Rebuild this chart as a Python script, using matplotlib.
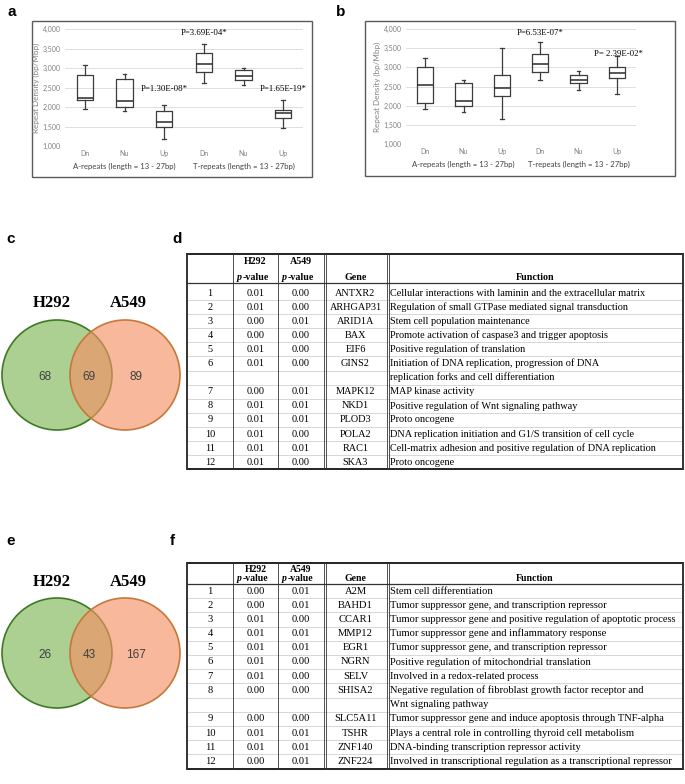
import numpy as np
import matplotlib.pyplot as plt
from matplotlib.patches import Circle, Rectangle

W, H = 685, 784

# ---- data: box plots a / b (repeat density, bp/Mbp) ----
categories = ["Dn", "Nu", "Up", "Dn", "Nu", "Up"]
groups = ["A-repeats (length = 13 - 27bp)", "T-repeats (length = 13 - 27bp)"]
yticks = [1000, 1500, 2000, 2500, 3000, 3500, 4000]

a_whislo = [1950, 1910, 1190, 2610, 2560, 1460]
a_q1 = [2190, 2010, 1500, 2890, 2680, 1710]
a_med = [2240, 2160, 1620, 3110, 2800, 1850]
a_q3 = [2820, 2730, 1910, 3390, 2940, 1930]
a_whishi = [3080, 2840, 2060, 3610, 3000, 2190]
a_pvals = ["P=1.30E-08*", "P=3.69E-04*", "P=1.65E-19*"]
a_pval_x = [3, 4, 6]
a_pval_y = [2450, 3900, 2450]

b_whislo = [1910, 1830, 1650, 2660, 2410, 2310]
b_q1 = [2080, 1990, 2260, 2890, 2580, 2730]
b_med = [2540, 2130, 2460, 3080, 2670, 2860]
b_q3 = [3000, 2580, 2800, 3340, 2790, 3020]
b_whishi = [3240, 2660, 3510, 3660, 2910, 3300]
b_pvals = ["P=6.53E-07*", "P= 2.39E-02*"]
b_pval_x = [4, 6.05]
b_pval_y = [3900, 3350]

# ---- data: Venn diagrams c / e ----
venn_sets = ["H292", "A549"]
venn_c = [68, 69, 89]
venn_e = [26, 43, 167]

# ---- data: tables d / f ----
d_h292 = ["0.01", "0.01", "0.00", "0.00", "0.01", "0.01", "0.00", "0.01", "0.01", "0.01", "0.01", "0.01"]
d_a549 = ["0.00", "0.00", "0.01", "0.00", "0.00", "0.00", "0.01", "0.01", "0.01", "0.00", "0.01", "0.00"]
d_genes = ["ANTXR2", "ARHGAP31", "ARID1A", "BAX", "EIF6", "GINS2", "MAPK12", "NKD1", "PLOD3", "POLA2", "RAC1", "SKA3"]
d_functions = [
    "Cellular interactions with laminin and the extracellular matrix",
    "Regulation of small GTPase mediated signal transduction",
    "Stem cell population maintenance",
    "Promote activation of caspase3 and trigger apoptosis",
    "Positive regulation of translation",
    "Initiation of DNA replication, progression of DNA\nreplication forks and cell differentiation",
    "MAP kinase activity",
    "Positive regulation of Wnt signaling pathway",
    "Proto oncogene",
    "DNA replication initiation and G1/S transition of cell cycle",
    "Cell-matrix adhesion and positive regulation of DNA replication",
    "Proto oncogene",
]

f_h292 = ["0.00", "0.00", "0.01", "0.01", "0.01", "0.01", "0.01", "0.00", "0.00", "0.01", "0.01", "0.00"]
f_a549 = ["0.01", "0.01", "0.00", "0.01", "0.01", "0.00", "0.00", "0.00", "0.00", "0.01", "0.01", "0.01"]
f_genes = ["A2M", "BAHD1", "CCAR1", "MMP12", "EGR1", "NGRN", "SELV", "SHISA2", "SLC5A11", "TSHR", "ZNF140", "ZNF224"]
f_functions = [
    "Stem cell differentiation",
    "Tumor suppressor gene, and transcription repressor",
    "Tumor suppressor gene and positive regulation of apoptotic process",
    "Tumor suppressor gene and inflammatory response",
    "Tumor suppressor gene, and transcription repressor",
    "Positive regulation of mitochondrial translation",
    "Involved in a redox-related process",
    "Negative regulation of fibroblast growth factor receptor and\nWnt signaling pathway",
    "Tumor suppressor gene and induce apoptosis through TNF-alpha",
    "Plays a central role in controlling thyroid cell metabolism",
    "DNA-binding transcription repressor activity",
    "Involved in transcriptional regulation as a transcriptional repressor",
]

SERIF = "Liberation Serif"
SANS = "Liberation Sans"
XL = "Lato"

fig = plt.figure(figsize=(W / 100, H / 100), dpi=100)

# overlay axes in pixel units (frames, venns, tables, panel letters)
ov = fig.add_axes([0, 0, 1, 1])
ov.set_xlim(0, W)
ov.set_ylim(H, 0)
ov.axis("off")


def px_axes(x0, y0, x1, y1):
    return fig.add_axes([x0 / W, 1 - y1 / H, (x1 - x0) / W, (y1 - y0) / H])


def box_panel(frame, area, whislo, q1, med, q3, whishi, pvals, px, py):
    ov.add_patch(Rectangle((frame[0], frame[1]), frame[2] - frame[0], frame[3] - frame[1],
                           fill=False, ec="#5a5a5a", lw=1.0))
    ax = px_axes(*area)
    ax.set_facecolor("none")
    stats = [dict(whislo=w0, q1=b0, med=m, q3=b1, whishi=w1, fliers=[])
             for w0, b0, m, b1, w1 in zip(whislo, q1, med, q3, whishi)]
    style = dict(color="#3c3c3c", lw=0.9)
    ax.bxp(stats, positions=range(1, len(stats) + 1), widths=0.42, capwidths=0.1,
           showfliers=False, boxprops=style, whiskerprops=style, capprops=style,
           medianprops=dict(color="#2a2a2a", lw=1.1))
    ax.set_xlim(0.5, len(stats) + 0.5)
    ax.set_ylim(yticks[0], yticks[-1])
    ax.set_yticks(yticks)
    ax.set_yticklabels([f"{v:,}" for v in yticks], fontsize=5, color="#808080", family=XL)
    ax.set_xticks(range(1, len(stats) + 1))
    ax.set_xticklabels(categories, fontsize=5, color="#808080", family=XL)
    ax.tick_params(length=0, pad=3)
    ax.yaxis.grid(True, color="#d9d9d9", lw=0.6)
    ax.set_axisbelow(True)
    for s in ax.spines.values():
        s.set_visible(False)
    ax.set_ylabel("Repeat Density (bp/Mbp)", fontsize=5.8, color="#808080", family=XL, labelpad=2)
    for g, gx in zip(groups, [2, 5]):
        ax.annotate(g, xy=(gx, 0), xycoords=("data", "axes fraction"), xytext=(0, -20),
                    textcoords="offset pixels", ha="center", va="center",
                    fontsize=5.6, color="#404040", family=XL)
    for t, x, y in zip(pvals, px, py):
        ax.text(x, y, t, ha="center", va="center", fontsize=6.3, family=SERIF)
    return ax


box_panel((32, 21, 312, 177), (65, 29, 303, 146),
          a_whislo, a_q1, a_med, a_q3, a_whishi, a_pvals, a_pval_x, a_pval_y)
box_panel((365, 21, 675, 176), (406, 29, 636, 144),
          b_whislo, b_q1, b_med, b_q3, b_whishi, b_pvals, b_pval_x, b_pval_y)


def venn(cy, counts, title_y):
    r = 55
    cx = [57, 125]
    ov.add_patch(Circle((cx[0], cy), r, fc=(126 / 255, 183 / 255, 86 / 255, 0.65),
                        ec="#3d7a22", lw=1.2))
    ov.add_patch(Circle((cx[1], cy), r, fc=(244 / 255, 146 / 255, 101 / 255, 0.65),
                        ec="#c6783a", lw=1.2))
    for name, x in zip(venn_sets, [52, 128]):
        ov.text(x, title_y, name, ha="center", va="center", fontsize=12,
                fontweight="bold", family=SERIF)
    for n, x in zip(counts, [45, 89, 136]):
        ov.text(x, cy + 2, str(n), ha="center", va="center", fontsize=8.5,
                color="#404040", family=SANS)


venn(375, venn_c, 303)
venn(653, venn_e, 582)

COLS = [187, 233, 278, 324, 387, 683]


def table(top, hdr1, hdr2, hdr_bottom, row0, pitch, h292, a549, genes, funcs, fs, hfs):
    centers = [(COLS[i] + COLS[i + 1]) / 2 for i in range(4)]
    # header
    for name, x in zip(venn_sets, centers[1:3]):
        ov.text(x, hdr1, name, ha="center", va="center", fontsize=hfs, fontweight="bold", family=SERIF)
        ov.text(x - 19, hdr2, "p", ha="left", va="center", fontsize=hfs, fontweight="bold",
                style="italic", family=SERIF)
        ov.text(x - 13, hdr2, "-value", ha="left", va="center", fontsize=hfs,
                fontweight="bold", family=SERIF)
    ov.text(centers[3], hdr2, "Gene", ha="center", va="center", fontsize=hfs, fontweight="bold", family=SERIF)
    ov.text((COLS[4] + COLS[5]) / 2, hdr2, "Function", ha="center", va="center", fontsize=hfs,
            fontweight="bold", family=SERIF)
    # rows
    slot = 0
    seps = []
    for i, (p1, p2, g, fn) in enumerate(zip(h292, a549, genes, funcs)):
        y = row0 + slot * pitch
        for txt, x in zip([str(i + 1), p1, p2, g], centers):
            ov.text(x, y, txt, ha="center", va="center", fontsize=fs, family=SERIF)
        for j, line in enumerate(fn.split("\n")):
            ov.text(COLS[4] + 3, y + j * pitch, line, ha="left", va="center", fontsize=fs, family=SERIF)
            slot += 1
            seps.append(row0 + (slot - 0.5) * pitch)
    bottom = row0 + (slot - 0.5) * pitch
    for s in seps[:-1]:
        ov.plot([COLS[0], COLS[5]], [s, s], color="#c8c8c8", lw=0.5)
    ov.plot([COLS[0], COLS[5]], [hdr_bottom, hdr_bottom], color="#333333", lw=0.9)
    ov.plot([COLS[0], COLS[5]], [top, top], color="#222222", lw=1.4)
    ov.plot([COLS[0], COLS[5]], [bottom, bottom], color="#222222", lw=1.4)
    for k, x in enumerate(COLS):
        lw = 1.4 if k in (0, 5) else 0.6
        ov.plot([x, x], [top, bottom], color="#333333", lw=lw)
        if k in (3, 4):
            ov.plot([x + 2.2, x + 2.2], [top, bottom], color="#333333", lw=0.6)


table(254, 262, 277, 283, 293, 14.1, d_h292, d_a549, d_genes, d_functions, 7.4, 7.2)
table(563, 569.5, 578.5, 584, 591, 14.2, f_h292, f_a549, f_genes, f_functions, 7.55, 7.0)

for letter, x, y in [("a", 8, 12), ("b", 336, 12), ("c", 6, 239), ("d", 172, 239),
                     ("e", 6, 541), ("f", 170, 541)]:
    ov.text(x, y, letter, ha="left", va="center", fontsize=11, fontweight="bold", family=SANS)

fig.savefig("out.png", dpi=100)
